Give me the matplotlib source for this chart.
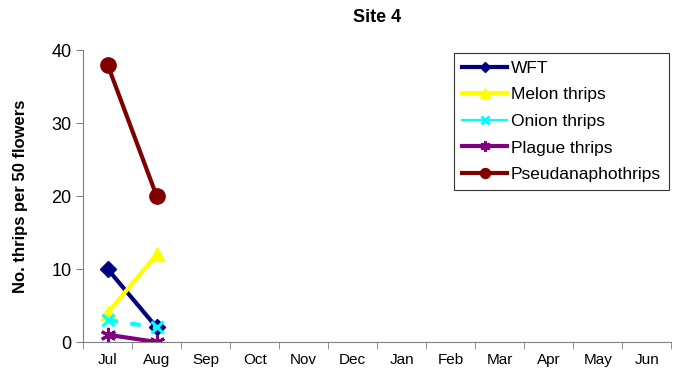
import matplotlib
matplotlib.use("Agg")
import matplotlib.pyplot as plt
import numpy as np

plt.rcParams['font.family'] = ['Liberation Sans', 'DejaVu Sans']

months = ["Jul", "Aug", "Sep", "Oct", "Nov", "Dec", "Jan", "Feb", "Mar", "Apr", "May", "Jun"]
wft = [10, 2]
melon = [4, 12]
onion = [3, 2]
plague = [1, 0]
pseud = [38, 20]

fig = plt.figure(figsize=(6.76, 3.83), dpi=100)
ax = fig.add_axes([0.123, 0.107, 0.870, 0.762])

x = np.arange(len(wft))
ax.plot(x, wft, color="#000080", lw=3, marker="D", ms=8, label="WFT")
ax.plot(x, melon, color="#FFFF00", lw=3, marker="^", ms=10, label="Melon thrips")
ax.plot(x, onion, color="#00FFFF", lw=3, ls=(0, (2.5, 3)), marker="x", ms=9, mew=2.2, label="Onion thrips")
ax.plot(x, plague, color="#800080", lw=3, marker=(6, 2, 0), ms=11, mew=2.2, label="Plague thrips")
ax.plot(x, pseud, color="#800000", lw=3, marker="o", ms=11, label="Pseudanaphothrips")

ax.set_xlim(-0.5, len(months) - 0.5)
ax.set_ylim(0, 40)
ax.set_yticks([0, 10, 20, 30, 40])
ax.set_xticks(np.arange(len(months)))
ax.set_xticklabels(months)
ax.set_xticks(np.arange(len(months) + 1) - 0.5, minor=True)
ax.tick_params(axis='x', which='major', length=0, pad=8, labelsize=11)
ax.tick_params(axis='x', which='minor', length=5, direction='out', color='#808080')
ax.tick_params(axis='y', length=5, direction='out', color='#808080', labelsize=13)

for s in ("top", "right"):
    ax.spines[s].set_visible(False)
for s in ("left", "bottom"):
    ax.spines[s].set_color("#808080")

ax.set_title("Site 4", fontsize=13, fontweight="bold", pad=20)
ax.set_ylabel("No. thrips per 50 flowers", fontsize=12, fontweight="bold", labelpad=17)

leg = ax.legend(loc="upper right", bbox_to_anchor=(1.0, 1.0), frameon=True, fancybox=False,
                edgecolor="black", fontsize=12.5, handlelength=2.6, handletextpad=0.2,
                labelspacing=0.66, borderpad=0.45, borderaxespad=0.15, markerscale=0.65)
leg.get_frame().set_linewidth(0.8)
onion_handle = leg.get_lines()[2]
onion_handle.set_linestyle("-")
onion_handle.set_linewidth(1.5)

fig.savefig("out.png", dpi=100)
